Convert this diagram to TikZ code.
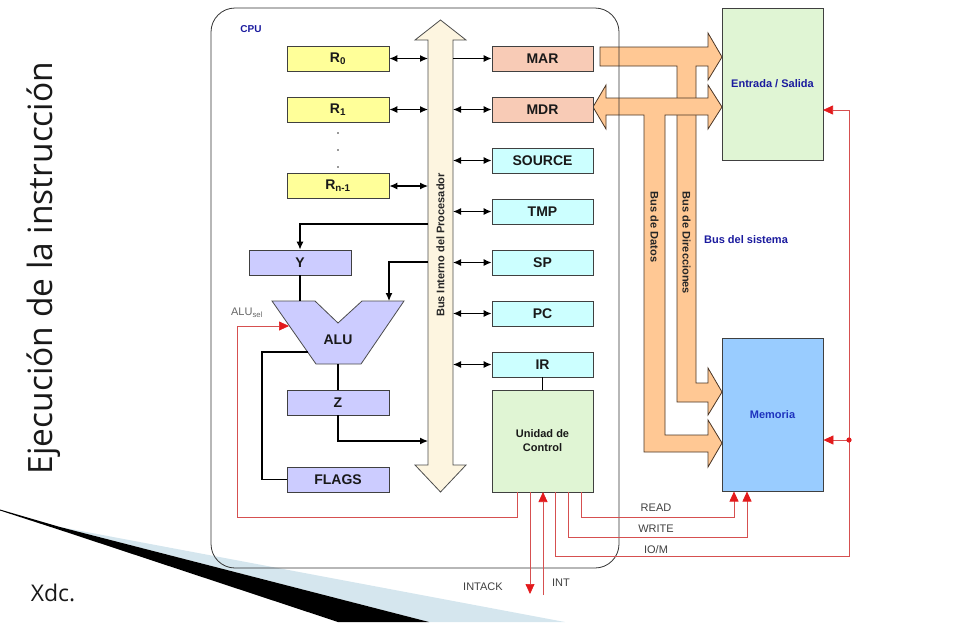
\documentclass[tikz,border=0pt]{standalone}
\usepackage{fontspec}
\setmainfont{Liberation Sans}
\newfontfamily\slidefont{Open Sans}
\usetikzlibrary{arrows.meta}

\definecolor{regyellow}{HTML}{FFFF99}
\definecolor{regsalmon}{HTML}{F8CBB6}
\definecolor{regcyan}{HTML}{CCFFFF}
\definecolor{reglav}{HTML}{CCCCFF}
\definecolor{ctlgreen}{HTML}{E0F5D4}
\definecolor{memblue}{HTML}{99CCFF}
\definecolor{buspeach}{HTML}{FFC894}
\definecolor{buscream}{HTML}{FDF5E0}
\definecolor{labelblue}{HTML}{1A1A9E}
\definecolor{sigred}{HTML}{D65050}
\definecolor{tipred}{HTML}{E31A1C}
\definecolor{swooshblue}{HTML}{D5E6EE}
\definecolor{edgebrown}{HTML}{4A3525}

\begin{document}
\begin{tikzpicture}[x=1pt,y=-1pt,
  box/.style={draw=black!75, line width=0.8pt, minimum width=102pt,
    minimum height=25pt, inner sep=0pt,
    font=\bfseries\fontsize{14}{14}\selectfont, text=black!90},
  bigbox/.style={draw=black!75, line width=0.8pt, minimum width=101pt,
    minimum height=152pt, inner sep=0pt, align=center,
    font=\bfseries\fontsize{11}{12}\selectfont},
  wire/.style={line width=1.2pt, black},
  arr/.style={wire, -{Latex[length=8pt,width=7pt]}},
  dbl/.style={wire, {Latex[length=8pt,width=7pt]}-{Latex[length=8pt,width=7pt]}},
  sig/.style={line width=0.7pt, sigred},
  sigarr/.style={sig, -{Triangle[length=10pt,width=9pt,fill=tipred,color=tipred]}},
  buslabel/.style={font=\bfseries\fontsize{11}{11}\selectfont, text=black!85},
  siglabel/.style={font=\fontsize{11}{11}\selectfont, text=black!75},
  peach/.style={fill=buspeach, draw=edgebrown, line width=0.8pt, line join=miter}
]
\useasboundingbox (0,0) rectangle (960,622);

% slide decoration at the lower left
\fill[swooshblue] (60,527) -- (565,622) -- (429,622) -- cycle;
\fill[black] (0,509.5) -- (60,527) -- (429,622) -- (338,622) -- (60,530) -- (0,510.5) -- cycle;

% slide title and footer
\node[rotate=90, font=\slidefont\fontsize{33.5}{33.5}\selectfont, text=black!90] (title) at (44,268) {Ejecución de la instrucción};
\node[font=\slidefont\fontsize{23}{23}\selectfont, text=black!90] (footer) at (53,593) {Xdc.};

% system bus: address path (MAR -> E/S and Memoria)
\draw[peach] (600,47) -- (708,47) -- (708,33) -- (722,57) -- (708,80) -- (708,66)
  -- (696,66) -- (696,383) -- (708,383) -- (708,368) -- (722,392) -- (708,415)
  -- (708,402) -- (677,402) -- (677,66) -- (600,66) -- cycle;
% system bus: data path (MDR <-> E/S and Memoria)
\draw[peach] (593,107) -- (606,85) -- (606,98) -- (708,98) -- (708,85) -- (722,107)
  -- (708,129) -- (708,115) -- (665,115) -- (665,435) -- (708,435) -- (708,420)
  -- (722,443) -- (708,467) -- (708,452) -- (644,452) -- (644,115) -- (606,115)
  -- (606,129) -- cycle;
\node[buslabel, rotate=-90] (datos) at (654.5,227) {Bus de Datos};
\node[buslabel, rotate=-90] (dirs) at (686.5,243) {Bus de Direcciones};
\node[font=\bfseries\fontsize{11}{11}\selectfont, text=labelblue] (sysbus) at (746,240) {Bus del sistema};

% CPU outline
\draw[black!80, line width=0.8pt, rounded corners=24pt] (211,8) rectangle (619,568);
\node[font=\bfseries\fontsize{10}{10}\selectfont, text=labelblue] (cpu) at (251,29) {CPU};

% internal processor bus
\draw[fill=buscream, draw=black!70, line width=0.8pt, line join=miter]
  (428,40) -- (415,40) -- (440.5,20) -- (466,40) -- (453,40) -- (453,465)
  -- (466,465) -- (440.5,492) -- (415,465) -- (428,465) -- cycle;
\node[buslabel, rotate=90] (ibus) at (440.5,245) {Bus Interno del Procesador};
\coordinate (busL) at (428,0);
\coordinate (busR) at (453,0);

% general purpose registers
\node[box, fill=regyellow] (r0) at (338,58.5) {R\textsubscript{0}};
\node[box, fill=regyellow] (r1) at (338,109.5) {R\textsubscript{1}};
\node[box, fill=regyellow] (rn) at (338,186) {R\textsubscript{n-1}};
\foreach \yy in {133,150,167}
  \fill[black!80] (338,\yy) circle (0.9pt);

% special registers
\node[box, fill=regsalmon, minimum width=101pt] (mar) at (542.5,58.5) {MAR};
\node[box, fill=regsalmon, minimum width=101pt] (mdr) at (542.5,109.5) {MDR};
\node[box, fill=regcyan, minimum width=101pt] (source) at (542.5,160.5) {SOURCE};
\node[box, fill=regcyan, minimum width=101pt] (tmp) at (542.5,211.5) {TMP};
\node[box, fill=regcyan, minimum width=101pt] (sp) at (542.5,262.5) {SP};
\node[box, fill=regcyan, minimum width=101pt] (pc) at (542.5,313.5) {PC};
\node[box, fill=regcyan, minimum width=101pt] (ir) at (542.5,364.5) {IR};
\node[box, fill=ctlgreen, minimum width=101pt, minimum height=102pt, align=center,
  font=\bfseries\fontsize{11}{14}\selectfont] (cu) at (542.5,441) {Unidad de\\Control};

% ALU side
\node[box, fill=reglav] (y) at (300,262.5) {Y};
\node[box, fill=reglav] (z) at (338,402.5) {Z};
\node[box, fill=reglav] (flags) at (338,479.5) {FLAGS};
\draw[fill=reglav, draw=black!70, line width=0.8pt, line join=miter]
  (272,301) -- (315,301) -- (338,323) -- (362,301) -- (404,301)
  -- (361,364) -- (316,364) -- cycle;
\node[font=\bfseries\fontsize{14}{14}\selectfont, text=black!90] (alu) at (338,340) {ALU};
\coordinate (aluA) at (300,301);
\coordinate (aluB) at (389,301);
\coordinate (aluOut) at (338,364);
\coordinate (aluFlag) at (308,352);
\coordinate (aluSel) at (289,326);
\node[font=\fontsize{11}{11}\selectfont, text=black!60] (alusel) at (247,313) {ALU\textsubscript{sel}};

% external units
\node[bigbox, fill=ctlgreen, text=labelblue] (es) at (772.5,84) {Entrada / Salida};
\node[bigbox, fill=memblue, text={rgb,255:red,30;green,50;blue,190}, minimum height=153pt] (mem) at (772.5,415) {Memoria};

% register <-> internal bus
\draw[dbl] (r0.east) -- (r0.east -| busL);
\draw[dbl] (r1.east) -- (r1.east -| busL);
\draw[dbl] (rn.east) -- (rn.east -| busL);
\draw[arr] (mar.west -| busR) -- (mar.west);
\foreach \r in {mdr,source,tmp,sp,pc,ir}
  \draw[dbl] (\r.west -| busR) -- (\r.west);
\draw[wire] (ir.south) -- (cu.north);

% internal bus <-> ALU
\coordinate (ytap) at (428,224);
\coordinate (btap) at (428,262);
\coordinate (ztap) at (428,441);
\draw[arr] (ytap) -| (y.north);
\draw[arr] (btap) -| (aluB);
\draw[wire] (y.south) -- (aluA);
\draw[wire] (aluOut) -- (z.north);
\draw[arr] (z.south) |- (ztap);
\draw[wire] (aluFlag) -- (262,352) |- (flags.west);

% control signals
\coordinate (cuSel) at (517,492);
\coordinate (cuAck) at (530,492);
\coordinate (cuInt) at (543,492);
\coordinate (cuIom) at (555,492);
\coordinate (cuWr) at (568,492);
\coordinate (cuRd) at (581,492);
\coordinate (ackEnd) at (530,594);
\coordinate (intEnd) at (543,595);
\coordinate (memRd) at (734,491.5);
\coordinate (memWr) at (747,491.5);
\coordinate (iomJoin) at (849,440);
\coordinate (esIn) at (823,110);

\draw[sigarr] (cuSel) -- (517,517) -- (237,517) -- (237,326) -- (aluSel);
\draw[sigarr] (cuAck) -- (ackEnd);
\draw[sigarr] (intEnd) -- (cuInt);
\draw[sigarr] (cuRd) |- (734,517) -- (memRd);
\draw[sigarr] (cuWr) |- (747,537) -- (memWr);
\draw[sigarr] (cuIom) |- (849,556) -- (849,110) -- (esIn);
\draw[sigarr] (iomJoin) -- (mem.east |- iomJoin);
\fill[tipred] (iomJoin) circle (2.6pt);

\node[siglabel] (rdl) at (656,508) {READ};
\node[siglabel] (wrl) at (656,529) {WRITE};
\node[siglabel] (ioml) at (656,550) {IO/M};
\node[siglabel] (ackl) at (483,587) {INTACK};
\node[siglabel] (intl) at (561,583) {INT};
\end{tikzpicture}
\end{document}
